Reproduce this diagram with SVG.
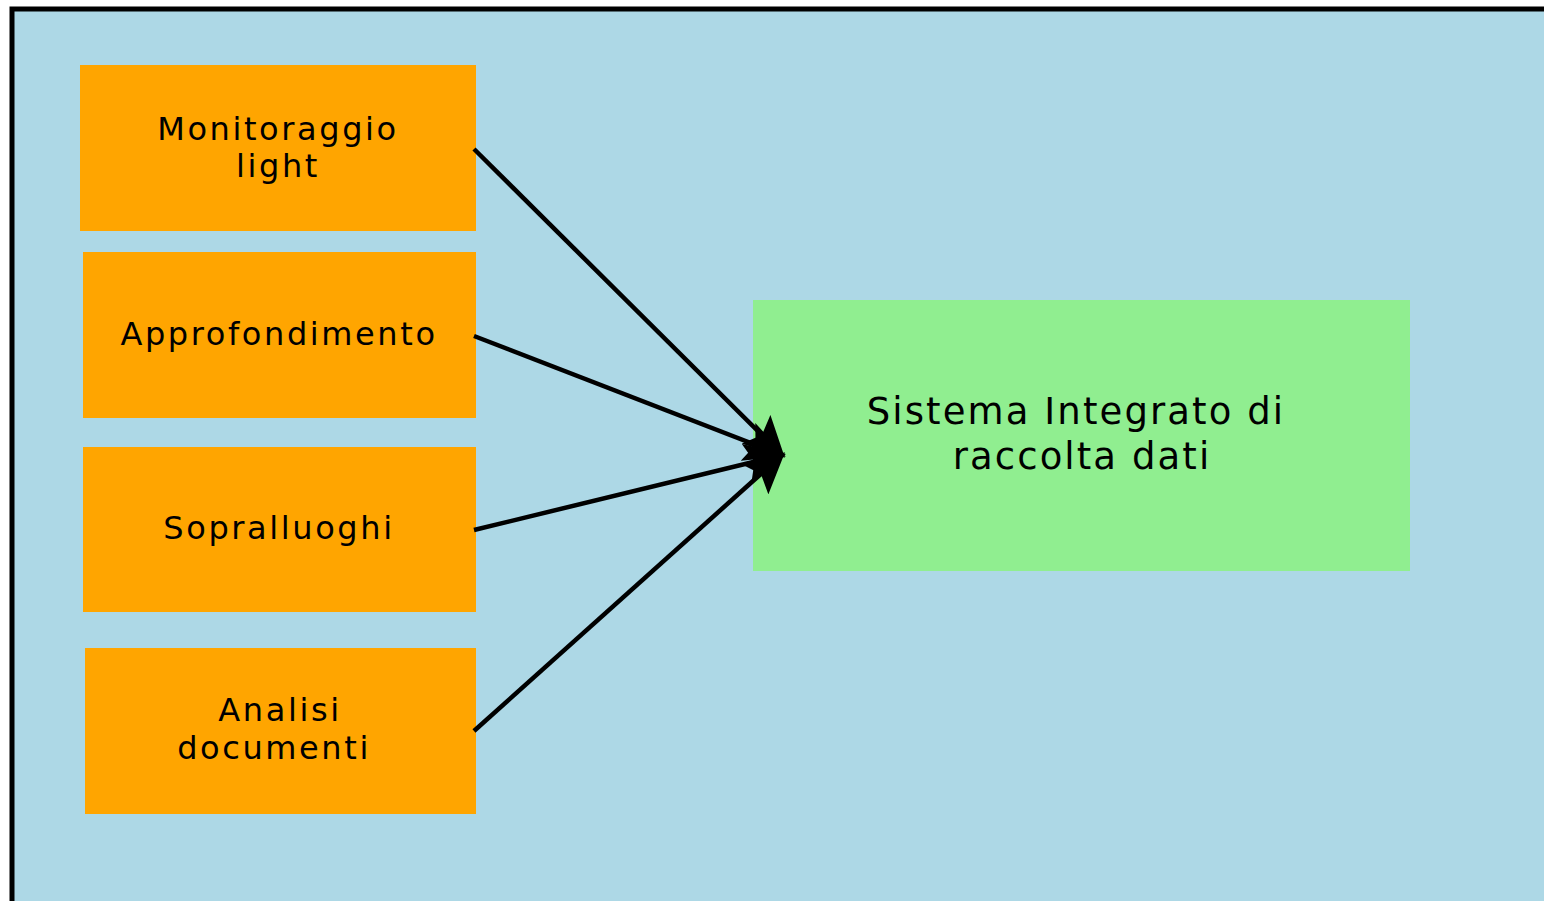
<svg xmlns="http://www.w3.org/2000/svg" width="1544" height="901" viewBox="0 0 1544 901">
<defs>
<style>
.src{fill:#ffa500}
.tgt{fill:#90ee90}
.lbl{font-family:"DejaVu Sans",sans-serif;font-size:32px;letter-spacing:2.6px;fill:#000;text-anchor:middle}
.big{font-size:37px;letter-spacing:2.1px}
.edge{stroke:#000;stroke-width:4.5;fill:none}
</style>
<marker id="ah" viewBox="0 0 10 10" refX="9" refY="5" markerWidth="9" markerHeight="9" markerUnits="strokeWidth" orient="auto">
<path d="M0,0 L10,5 L0,10 L2,5 Z" fill="#000"/>
</marker>
</defs>
<rect x="12" y="9" width="1550" height="910" fill="#add8e6" stroke="#000" stroke-width="5"/>
<g id="n1"><rect class="src" x="80" y="65" width="396" height="166"/><text class="lbl" x="278" y="140">Monitoraggio</text><text class="lbl" x="278" y="177">light</text></g>
<g id="n2"><rect class="src" x="83" y="252" width="393" height="166"/><text class="lbl" x="279" y="345">Approfondimento</text></g>
<g id="n3"><rect class="src" x="83" y="447" width="393" height="165"/><text class="lbl" x="279" y="539">Sopralluoghi</text></g>
<g id="n4"><rect class="src" x="85" y="648" width="391" height="166"/><text class="lbl" x="280" y="721">Analisi</text><text class="lbl" x="274" y="759">documenti</text></g>
<g id="n5"><rect class="tgt" x="753" y="300" width="657" height="271"/><text class="lbl big" x="1076" y="424">Sistema Integrato di</text><text class="lbl big" x="1082" y="469">raccolta dati</text></g>
<g id="edges">
<line class="edge" x1="474" y1="149" x2="782" y2="455" marker-end="url(#ah)"/>
<line class="edge" x1="474" y1="336" x2="782" y2="455" marker-end="url(#ah)"/>
<line class="edge" x1="474" y1="530" x2="782" y2="455" marker-end="url(#ah)"/>
<line class="edge" x1="474" y1="731" x2="782" y2="455" marker-end="url(#ah)"/>
</g>
</svg>
